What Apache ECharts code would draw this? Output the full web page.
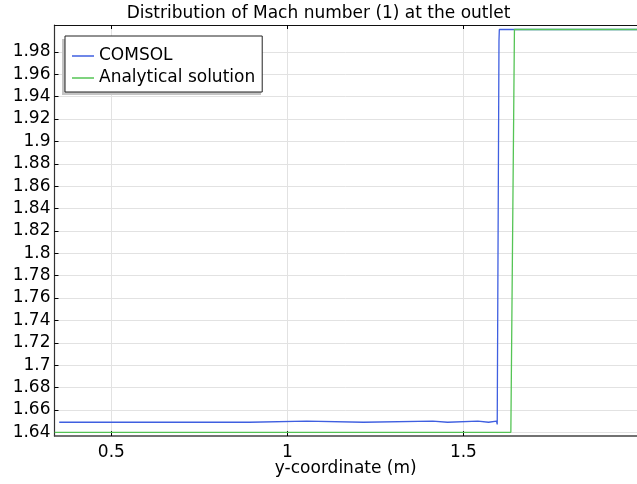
<!DOCTYPE html>
<html>
<head>
<meta charset="utf-8">
<script src="https://cdn.jsdelivr.net/npm/echarts@6/dist/echarts.min.js"></script>
<style>html,body{margin:0;padding:0;background:#fff}#c{width:637px;height:484px}</style>
</head>
<body>
<div id="c"></div>
<script>
const titleText = 'Distribution of Mach number (1) at the outlet';
const xName = 'y-coordinate (m)';
const seriesNames = ['COMSOL', 'Analytical solution'];
const xTicks = [0.5, 1, 1.5];
const yTicks = [1.64,1.66,1.68,1.7,1.72,1.74,1.76,1.78,1.8,1.82,1.84,1.86,1.88,1.9,1.92,1.94,1.96,1.98];
const xMin = 0.3386, xMax = 1.993, yMin = 1.6367, yMax = 2.004;

const comsolX = [0.352, 0.892, 0.892, 1.055, 1.055, 1.216, 1.216, 1.413, 1.413, 1.455, 1.455, 1.541, 1.541, 1.5715, 1.5715, 1.594, 1.596, 1.5995, 1.601, 1.602, 1.606, 1.607, 2.0];
const comsolY = [1.649, 1.649, 1.650, 1.650, 1.649, 1.649, 1.650, 1.650, 1.649, 1.649, 1.650, 1.650, 1.649, 1.649, 1.650, 1.650, 1.647, 1.648, 1.99, 2.0, 2.001, 2.0, 2.0];
const analyticX = [0.3386, 1.6347, 1.6449, 2.0];
const analyticY = [1.64, 1.64, 2.0, 2.0];

const zip = (a, b) => a.map((v, i) => [v, b[i]]);
const font = 'DejaVu Sans';
const blue = '#3f5fe0', green = '#55c455';
const chart = echarts.init(document.getElementById('c'), null, {renderer: 'canvas'});
chart.setOption({
  animation: false,
  backgroundColor: '#fff',
  title: {text: titleText, left: 'center', top: 0, textStyle: {fontFamily: font, fontSize: 17, fontWeight: 'normal', color: '#000'}},
  graphic: [{
    type: 'rect', left: 62, top: 39, shape: {width: 199, height: 56},
    style: {fill: '#c4c4c4'}, z: 90, silent: true
  }],
  legend: {
    orient: 'vertical', left: 65, top: 36, padding: [9, 7, 3, 7], itemGap: 0,
    itemWidth: 22, itemHeight: 1.5, icon: 'rect',
    backgroundColor: '#fff', borderColor: '#222', borderWidth: 1, z: 100,
    textStyle: {fontFamily: font, fontSize: 17, color: '#000', lineHeight: 22},
    data: seriesNames
  },
  grid: {left: 54.5, top: 25, right: 0, bottom: 48, containLabel: false, outerBoundsMode: 'none'},
  xAxis: [{
    type: 'value', min: xMin, max: xMax, position: 'bottom',
    name: xName, nameLocation: 'middle', nameGap: 24, nameMoveOverlap: false,
    nameTextStyle: {fontFamily: font, fontSize: 17, color: '#000'},
    axisLine: {lineStyle: {color: '#444', width: 1.5}},
    axisTick: {inside: true, length: 5, customValues: xTicks, lineStyle: {color: '#000'}},
    axisLabel: {customValues: xTicks, fontFamily: font, fontSize: 17, color: '#000', margin: 8},
    splitLine: {show: true, customValues: xTicks, lineStyle: {color: '#e2e2e2', width: 1}}
  }, {
    type: 'value', min: xMin, max: xMax, position: 'top',
    axisLine: {show: true, lineStyle: {color: '#111', width: 1.2}},
    axisTick: {inside: true, length: 4, customValues: xTicks, lineStyle: {color: '#000'}},
    axisLabel: {show: false},
    splitLine: {show: false}
  }],
  yAxis: {
    type: 'value', min: yMin, max: yMax,
    axisLine: {show: true, lineStyle: {color: '#333', width: 1.2}},
    axisTick: {inside: true, length: 4, customValues: yTicks, lineStyle: {color: '#000'}},
    axisLabel: {customValues: yTicks, fontFamily: font, fontSize: 17, color: '#000', margin: 4,
      formatter: v => String(+(+v).toFixed(2))},
    splitLine: {show: true, customValues: yTicks, lineStyle: {color: '#e2e2e2', width: 1}}
  },
  series: [{
    name: seriesNames[0], type: 'line', symbol: 'none', data: zip(comsolX, comsolY),
    lineStyle: {color: blue, width: 1.3}, itemStyle: {color: blue}, z: 2
  }, {
    name: seriesNames[1], type: 'line', symbol: 'none', data: zip(analyticX, analyticY),
    lineStyle: {color: green, width: 1.3}, itemStyle: {color: green}, z: 3
  }]
});
</script>
</body>
</html>
